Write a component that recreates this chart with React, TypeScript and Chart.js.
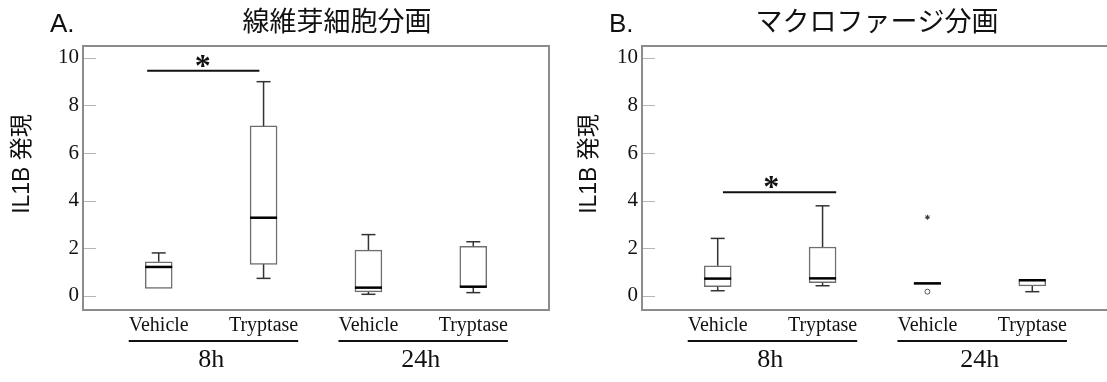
import React, { useEffect, useRef } from 'react';
import { Chart, registerables } from 'chart.js';

Chart.register(...registerables);

// ---------- shared axis content ----------
const categories = ['Vehicle', 'Tryptase', 'Vehicle', 'Tryptase'];
const groupLabels = ['8h', '24h'];
const groupSpans = [
  [1, 2],
  [3, 4],
];
const yTickValues = [0, 2, 4, 6, 8, 10];
const yAxisTitle = 'IL1B 発現';

// ---------- panel A : 線維芽細胞分画 ----------
const titleA = '線維芽細胞分画';
const minA = [0.31, 0.73, 0.06, 0.13];
const q1A = [0.31, 1.32, 0.16, 0.36];
const medA = [1.21, 3.28, 0.34, 0.38];
const q3A = [1.43, 7.14, 1.92, 2.08];
const maxA = [1.8, 9.0, 2.57, 2.27];
const outliersA: { x: number; y: number }[] = [];
const extremesA: { x: number; y: number }[] = [];
const sigLineA = [0.89, 1.96, 9.46]; // x from, x to, y
const sigStarA = [1.42, 9.95]; // x, y

// ---------- panel B : マクロファージ分画 ----------
const titleB = 'マクロファージ分画';
const minB = [0.21, 0.42, null, 0.17];
const q1B = [0.38, 0.55, 0.49, 0.41];
const medB = [0.72, 0.73, 0.52, 0.65];
const q3B = [1.26, 2.05, 0.54, 0.67];
const maxB = [2.41, 3.78, null, 0.67];
const outliersB = [{ x: 3, y: 0.17 }];
const extremesB = [{ x: 3, y: 3.3 }];
const sigLineB = [1.05, 2.13, 4.35];
const sigStarB = [1.51, 4.87];

const SERIF = "'Liberation Serif', 'Times New Roman', serif";
const SANS = "'Liberation Sans', Arial, 'Noto Sans CJK JP', sans-serif";
const CANVAS_W = 565;
const CANVAS_H = 382;

type PanelData = {
  letter: string;
  title: string;
  min: (number | null)[];
  q1: number[];
  med: number[];
  q3: number[];
  max: (number | null)[];
  outliers: { x: number; y: number }[];
  extremes: { x: number; y: number }[];
  sigLine: number[];
  sigStar: number[];
};

type PanelLayout = {
  left: number;
  titleX: number;
  yTitleX: number;
};

function buildConfig(d: PanelData, lay: PanelLayout): any {
  const xs = categories.map((_, i) => i + 1);

  const boxData = xs.map((x, i) => ({ x, y: [d.q1[i], d.q3[i]] }));
  const whiskerData: { x: number; y: number | null }[] = [];
  const capData: { x: number; y: number }[] = [];
  xs.forEach((x, i) => {
    const mx = d.max[i];
    const mn = d.min[i];
    if (mx != null && mx > d.q3[i]) {
      whiskerData.push({ x, y: d.q3[i] }, { x, y: mx }, { x, y: null });
      capData.push({ x, y: mx });
    }
    if (mn != null && mn < d.q1[i]) {
      whiskerData.push({ x, y: d.q1[i] }, { x, y: mn }, { x, y: null });
      capData.push({ x, y: mn });
    }
  });
  const medData = xs.map((x, i) => ({ x, y: d.med[i] }));

  const decor = {
    id: 'decor',
    afterDraw(chart: any) {
      const ctx = chart.ctx as CanvasRenderingContext2D;
      const area = chart.chartArea;
      const sx = chart.scales.x;
      const sy = chart.scales.y;
      ctx.save();

      // inner tick marks on y axis
      ctx.strokeStyle = '#b5b5b5';
      ctx.lineWidth = 1;
      yTickValues.forEach((v) => {
        const py = Math.round(sy.getPixelForValue(v)) + 0.5;
        ctx.beginPath();
        ctx.moveTo(area.left, py);
        ctx.lineTo(area.left + 13, py);
        ctx.stroke();
      });

      // plot frame
      ctx.strokeStyle = '#8c8c8c';
      ctx.lineWidth = 2;
      ctx.strokeRect(area.left, area.top, area.right - area.left, area.bottom - area.top);

      // significance star
      const starSize = 32;
      ctx.fillStyle = '#111';
      ctx.font = `bold ${starSize}px ${SERIF}`;
      ctx.textAlign = 'center';
      ctx.textBaseline = 'alphabetic';
      ctx.fillText(
        '*',
        sx.getPixelForValue(d.sigStar[0]),
        sy.getPixelForValue(d.sigStar[1]) + starSize * 0.52
      );

      // group underlines and labels
      ctx.font = `20px ${SERIF}`;
      const underlineY = 341;
      groupSpans.forEach((span, gi) => {
        const wa = ctx.measureText(categories[span[0] - 1]).width;
        const wb = ctx.measureText(categories[span[1] - 1]).width;
        const xa = sx.getPixelForValue(span[0]) - wa / 2;
        const xb = sx.getPixelForValue(span[1]) + wb / 2;
        ctx.strokeStyle = '#111';
        ctx.lineWidth = 2;
        ctx.beginPath();
        ctx.moveTo(xa, underlineY);
        ctx.lineTo(xb, underlineY);
        ctx.stroke();
        ctx.save();
        ctx.font = `26px ${SERIF}`;
        ctx.textAlign = 'center';
        ctx.textBaseline = 'middle';
        ctx.fillStyle = '#111';
        ctx.fillText(groupLabels[gi], (sx.getPixelForValue(span[0]) + sx.getPixelForValue(span[1])) / 2, 360);
        ctx.restore();
      });

      // panel letter and title
      ctx.fillStyle = '#111';
      ctx.textBaseline = 'middle';
      ctx.textAlign = 'left';
      ctx.font = `26px ${SANS}`;
      ctx.fillText(d.letter, 50, 25);
      ctx.textAlign = 'center';
      ctx.font = `27px ${SANS}`;
      ctx.fillText(d.title, lay.titleX, 24);

      // y-axis title
      ctx.save();
      ctx.translate(lay.yTitleX, 164);
      ctx.rotate(-Math.PI / 2);
      ctx.font = `23px ${SANS}`;
      ctx.textAlign = 'center';
      ctx.textBaseline = 'middle';
      ctx.fillText(yAxisTitle, 0, 0);
      ctx.restore();

      ctx.restore();
    },
  };

  return {
    type: 'bar',
    data: {
      datasets: [
        {
          type: 'bar',
          data: boxData,
          backgroundColor: '#ffffff',
          borderColor: '#6e6e6e',
          borderWidth: 1.5,
          borderSkipped: false,
          barThickness: 27,
          order: 6,
        },
        {
          type: 'line',
          data: whiskerData,
          borderColor: '#333333',
          borderWidth: 1.5,
          pointRadius: 0,
          spanGaps: false,
          fill: false,
          order: 5,
        },
        {
          type: 'scatter',
          data: capData,
          pointStyle: 'line',
          pointRadius: 7,
          borderColor: '#333333',
          borderWidth: 1.5,
          order: 4,
        },
        {
          type: 'scatter',
          data: medData,
          pointStyle: 'line',
          pointRadius: 13.5,
          borderColor: '#000000',
          borderWidth: 2.5,
          order: 3,
        },
        {
          type: 'scatter',
          data: d.outliers,
          pointStyle: 'circle',
          pointRadius: 2.5,
          borderColor: '#555555',
          backgroundColor: '#ffffff',
          borderWidth: 1,
          order: 2,
        },
        {
          type: 'scatter',
          data: d.extremes,
          pointStyle: 'star',
          pointRadius: 2.5,
          borderColor: '#333333',
          borderWidth: 1,
          order: 2,
        },
        {
          type: 'line',
          data: [
            { x: d.sigLine[0], y: d.sigLine[2] },
            { x: d.sigLine[1], y: d.sigLine[2] },
          ],
          borderColor: '#111111',
          borderWidth: 2,
          pointRadius: 0,
          order: 1,
        },
      ],
    },
    options: {
      responsive: false,
      animation: false,
      events: [],
      layout: { padding: { top: 46, right: CANVAS_W - 554, left: 0, bottom: 0 } },
      plugins: {
        legend: { display: false },
        tooltip: { enabled: false },
        title: { display: false },
      },
      scales: {
        x: {
          type: 'linear',
          min: 0.278,
          max: 4.722,
          offset: false,
          grid: { display: false, drawTicks: false },
          border: { display: false },
          afterBuildTicks: (s: any) => {
            s.ticks = xs.map((v) => ({ value: v }));
          },
          afterFit: (s: any) => {
            s.height = 72;
          },
          ticks: {
            autoSkip: false,
            maxRotation: 0,
            minRotation: 0,
            padding: 4,
            color: '#111',
            font: { family: SERIF, size: 20 },
            callback: (v: number) => categories[Math.round(v) - 1] ?? '',
          },
        },
        y: {
          type: 'linear',
          min: -0.6,
          max: 10.5,
          grid: { display: false, drawTicks: false },
          border: { display: false },
          afterBuildTicks: (s: any) => {
            s.ticks = yTickValues.map((v) => ({ value: v }));
          },
          afterFit: (s: any) => {
            s.width = 83;
          },
          ticks: {
            padding: 4,
            color: '#111',
            font: { family: SERIF, size: 21 },
          },
        },
      },
    },
    plugins: [decor],
  };
}

function Panel({ data, layout }: { data: PanelData; layout: PanelLayout }) {
  const ref = useRef<HTMLCanvasElement>(null);
  useEffect(() => {
    if (!ref.current) return;
    const chart = new Chart(ref.current, buildConfig(data, layout));
    return () => chart.destroy();
  }, []);
  return (
    <canvas
      ref={ref}
      width={CANVAS_W}
      height={CANVAS_H}
      style={{ position: 'absolute', left: layout.left, top: 0, width: CANVAS_W, height: CANVAS_H }}
    />
  );
}

const panelA: PanelData = {
  letter: 'A.',
  title: titleA,
  min: minA,
  q1: q1A,
  med: medA,
  q3: q3A,
  max: maxA,
  outliers: outliersA,
  extremes: extremesA,
  sigLine: sigLineA,
  sigStar: sigStarA,
};

const panelB: PanelData = {
  letter: 'B.',
  title: titleB,
  min: minB,
  q1: q1B,
  med: medB,
  q3: q3B,
  max: maxB,
  outliers: outliersB,
  extremes: extremesB,
  sigLine: sigLineB,
  sigStar: sigStarB,
};

export default function App() {
  return (
    <div
      style={{
        position: 'fixed',
        left: 0,
        top: 0,
        width: 1107,
        height: 382,
        overflow: 'hidden',
        background: '#ffffff',
      }}
    >
      <Panel data={panelA} layout={{ left: 0, titleX: 337, yTitleX: 23 }} />
      <Panel data={panelB} layout={{ left: 559, titleX: 318, yTitleX: 31 }} />
    </div>
  );
}
